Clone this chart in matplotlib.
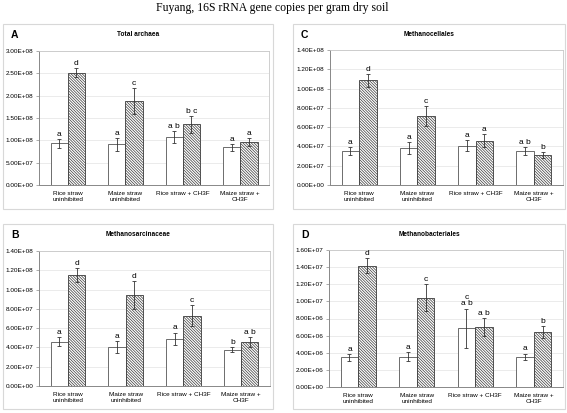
import numpy as np
import matplotlib
matplotlib.use("Agg")
import matplotlib.pyplot as plt
from matplotlib.patches import Rectangle
from matplotlib.ticker import FuncFormatter, MultipleLocator

plt.rcParams['font.family'] = ['Liberation Sans', 'DejaVu Sans']
plt.rcParams['hatch.linewidth'] = 0.5

categories = ["Rice straw\nuninhibited", "Maize straw\nuninhibited",
              "Rice straw + CH3F", "Maize straw +\nCH3F"]

# panel A - Total archaea
a_white = [9.3e7, 9.1e7, 1.07e8, 8.4e7]
a_white_err = [0.95e7, 1.4e7, 1.4e7, 0.75e7]
a_hatch = [2.51e8, 1.88e8, 1.36e8, 0.96e8]
a_hatch_err = [1.0e7, 2.9e7, 1.9e7, 0.85e7]
a_white_lbl = ['a', 'a', 'a b', 'a']
a_hatch_lbl = ['d', 'c', 'b c', 'a']

# panel B - Methanosarcinaceae
b_white = [4.57e7, 4.05e7, 4.92e7, 3.78e7]
b_white_err = [0.47e7, 0.6e7, 0.62e7, 0.3e7]
b_hatch = [1.15e8, 9.39e7, 7.31e7, 4.57e7]
b_hatch_err = [0.69e7, 1.45e7, 1.09e7, 0.48e7]
b_white_lbl = ['a', 'a', 'a', 'b']
b_hatch_lbl = ['d', 'd', 'c', 'a b']

# panel C - Methanocellales
c_white = [3.53e7, 3.84e7, 4.08e7, 3.53e7]
c_white_err = [0.38e7, 0.59e7, 0.57e7, 0.38e7]
c_hatch = [1.085e8, 7.16e7, 4.6e7, 3.08e7]
c_hatch_err = [0.7e7, 1.05e7, 0.66e7, 0.31e7]
c_white_lbl = ['a', 'a', 'a', 'a b']
c_hatch_lbl = ['d', 'c', 'a', 'b']

# panel D - Methanobacteriales
d_white = [3.45e6, 3.53e6, 6.86e6, 3.53e6]
d_white_err = [0.37e6, 0.55e6, 2.3e6, 0.37e6]
d_hatch = [1.416e7, 1.043e7, 6.98e6, 6.39e6]
d_hatch_err = [0.86e6, 1.6e6, 1.08e6, 0.7e6]
d_white_lbl = ['a', 'a', 'c\na b', 'a']
d_hatch_lbl = ['d', 'c', 'a b', 'b']

W, H = 567, 413
fig = plt.figure(figsize=(W / 100, H / 100), dpi=100)
fig.patch.set_facecolor('white')

fig.text(0.48, 1 - 7.5 / H, "Fuyang, 16S rRNA gene copies per gram dry soil",
         family='Liberation Serif', fontsize=8.5, ha='center', va='center')

# (letter, subtitle, plot box px (x0, y0, x1, y1), frame px, ymax, ystep, data)
panels = [
    ('A', 'Total archaea', (39, 51, 269, 185), (3, 24, 273, 209), 3e8, 5e7,
     a_white, a_white_err, a_hatch, a_hatch_err, a_white_lbl, a_hatch_lbl),
    ('C', 'Methanocellales', (330, 50, 563, 185), (293, 24, 565, 209), 1.4e8, 2e7,
     c_white, c_white_err, c_hatch, c_hatch_err, c_white_lbl, c_hatch_lbl),
    ('B', 'Methanosarcinaceae', (39, 251, 270, 386), (3, 224, 273, 409), 1.4e8, 2e7,
     b_white, b_white_err, b_hatch, b_hatch_err, b_white_lbl, b_hatch_lbl),
    ('D', 'Methanobacteriales', (329, 250, 563, 387), (293, 224, 565, 409), 1.6e7, 2e6,
     d_white, d_white_err, d_hatch, d_hatch_err, d_white_lbl, d_hatch_lbl),
]

x = np.arange(len(categories))
bw = 0.3

for (letter, sub, box, frame, ymax, ystep,
     wv, we, hv, he, wl, hl) in panels:
    fx0, fy0, fx1, fy1 = frame
    fig.add_artist(Rectangle((fx0 / W, 1 - fy1 / H), (fx1 - fx0) / W, (fy1 - fy0) / H,
                             transform=fig.transFigure, fill=False,
                             edgecolor='#d8d8d8', lw=0.8))
    fig.text((fx0 + 8) / W, 1 - (fy0 + 11) / H, letter, fontsize=7.5,
             fontweight='bold', ha='left', va='center')
    fig.text((fx0 + fx1) / 2 / W, 1 - (fy0 + 10) / H, sub, fontsize=4.7,
             fontweight='bold', ha='center', va='center')

    x0, y0, x1, y1 = box
    ax = fig.add_axes([x0 / W, 1 - y1 / H, (x1 - x0) / W, (y1 - y0) / H])
    ax.bar(x - bw / 2, wv, bw, color='white', edgecolor='#555555', lw=0.6, zorder=2)
    ax.bar(x + bw / 2, hv, bw, color='white', edgecolor='#3a3a3a', lw=0.6,
           hatch='\\' * 12, zorder=2)
    ax.errorbar(x - bw / 2, wv, yerr=we, fmt='none', ecolor='#333333',
                elinewidth=0.6, capsize=1.5, capthick=0.6, zorder=3)
    ax.errorbar(x + bw / 2, hv, yerr=he, fmt='none', ecolor='#333333',
                elinewidth=0.6, capsize=1.5, capthick=0.6, zorder=3)

    for xi, v, e, t in zip(x - bw / 2, wv, we, wl):
        ax.annotate(t, (xi, v + e), xytext=(0, 0.8), textcoords='offset points',
                    ha='center', va='bottom', fontsize=6, linespacing=0.95)
    for xi, v, e, t in zip(x + bw / 2, hv, he, hl):
        ax.annotate(t, (xi, v + e), xytext=(0, 0.8), textcoords='offset points',
                    ha='center', va='bottom', fontsize=6, linespacing=0.95)

    ax.set_xlim(-0.5, len(categories) - 0.5)
    ax.set_ylim(0, ymax)
    ax.yaxis.set_major_locator(MultipleLocator(ystep))
    ax.yaxis.set_major_formatter(FuncFormatter(lambda v, p: f"{v:.2E}"))
    ax.set_xticks(x)
    ax.set_xticklabels(categories, fontsize=4.6, linespacing=1.45)
    ax.tick_params(axis='x', length=0, pad=4)
    ax.tick_params(axis='y', labelsize=4.6, length=2, width=0.5,
                   color='#888888', pad=2)
    ax.grid(axis='y', color='#e8e8e8', lw=0.6, zorder=0)
    ax.set_axisbelow(True)
    for s in ['top', 'right']:
        ax.spines[s].set_color('#c8c8c8')
        ax.spines[s].set_linewidth(0.6)
    for s in ['left', 'bottom']:
        ax.spines[s].set_color('#888888')
        ax.spines[s].set_linewidth(0.7)

fig.savefig('out.png', dpi=100)
